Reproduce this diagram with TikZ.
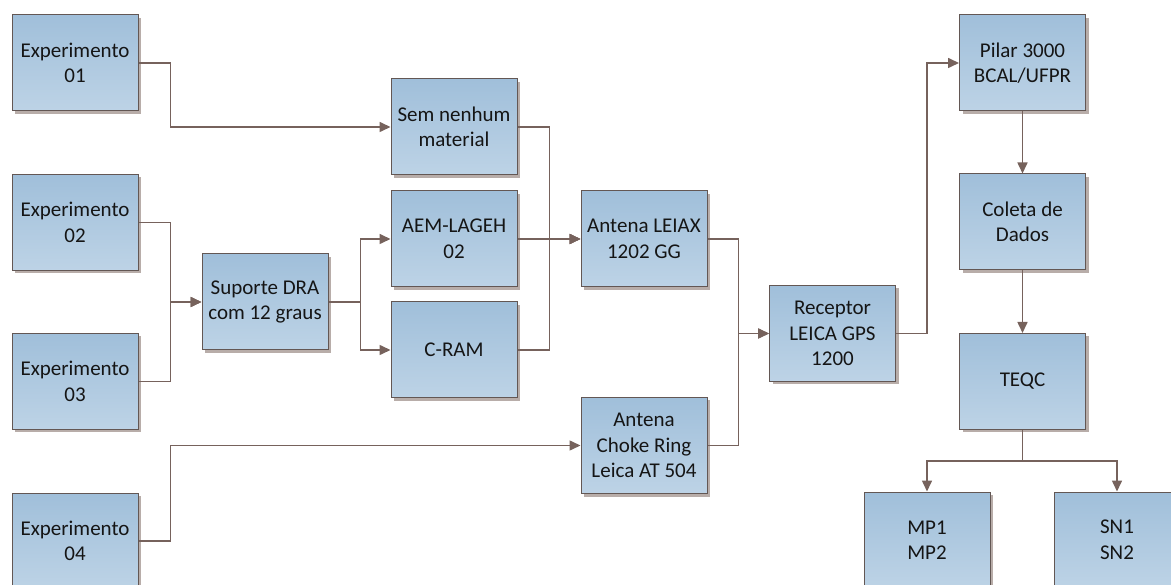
\documentclass[tikz,border=0pt]{standalone}
\usepackage{fontspec}
\setmainfont{Carlito}
\usetikzlibrary{arrows.meta,shadows}
\definecolor{boxtop}{HTML}{A0BFDA}
\definecolor{boxbot}{HTML}{BDD3E6}
\definecolor{boxline}{HTML}{635754}
\definecolor{shadowc}{HTML}{B8ADA9}
\definecolor{linec}{HTML}{76625C}
\definecolor{txt}{HTML}{151515}
\tikzset{
  blk/.style={draw=boxline, line width=1pt, minimum width=126pt, minimum height=96pt,
    inner sep=2pt, align=center, text=txt, top color=boxtop, bottom color=boxbot,
    font=\fontsize{21}{25.5}\selectfont,
    drop shadow={shadow xshift=3pt, shadow yshift=-3pt, fill=shadowc, opacity=1}},
  conn/.style={draw=linec, line width=1.6pt},
  arr/.style={conn, -{Triangle[length=11pt,width=10pt]}}
}
\begin{document}
\begin{tikzpicture}[x=1pt,y=-1pt]
\useasboundingbox (0,0) rectangle (1171,585);
\clip (0,0) rectangle (1171,585);
\node[blk] (e1) at (75,63) {Experimento\\01};
\node[blk] (e2) at (75,222.5) {Experimento\\02};
\node[blk] (e3) at (75,381.5) {Experimento\\03};
\node[blk] (e4) at (75,541) {Experimento\\04};
\node[blk] (sup) at (265,302) {Suporte DRA\\com 12 graus};
\node[blk] (sem) at (454,127) {Sem nenhum\\material};
\node[blk] (aem) at (454,239) {AEM-LAGEH\\02};
\node[blk] (cram) at (454,350) {C-RAM};
\node[blk] (leiax) at (644,239) {Antena LEIAX\\1202 GG};
\node[blk] (choke) at (644,445.5) {Antena\\Choke Ring\\Leica AT 504};
\node[blk] (rec) at (832.5,333.5) {Receptor\\LEICA GPS\\1200};
\node[blk] (pilar) at (1022.5,63) {Pilar 3000\\BCAL/UFPR};
\node[blk] (coleta) at (1022.5,222) {Coleta de\\Dados};
\node[blk] (teqc) at (1022.5,381.5) {TEQC};
\node[blk] (mp) at (927,540) {MP1\\MP2};
\node[blk] (sn) at (1117,540) {SN1\\SN2};

\draw[arr] (e1.east) -- ++(32,0) |- (sem.west);
\draw[arr] (e2.east) -- ++(32,0) |- (sup.west);
\draw[arr] (e3.east) -- ++(32,0) |- (sup.west);
\draw[arr] (e4.east) -- ++(32,0) |- (choke.west);
\draw[arr] (sup.east) -- ++(32,0) |- (aem.west);
\draw[arr] (sup.east) -- ++(32,0) |- (cram.west);
\draw[arr] (sem.east) -- ++(32,0) |- (leiax.west);
\draw[arr] (cram.east) -- ++(32,0) |- (leiax.west);
\draw[arr] (aem.east) -- (leiax.west);
\draw[arr] (leiax.east) -- ++(31,0) |- (rec.west);
\draw[arr] (choke.east) -- ++(31,0) |- (rec.west);
\draw[arr] (rec.east) -- ++(31,0) |- (pilar.west);
\draw[arr] (pilar.south) -- (coleta.north);
\draw[arr] (coleta.south) -- (teqc.north);
\draw[arr] (teqc.south) -- ++(0,31) -| (mp.north);
\draw[arr] (teqc.south) -- ++(0,31) -| (sn.north);
\end{tikzpicture}
\end{document}
